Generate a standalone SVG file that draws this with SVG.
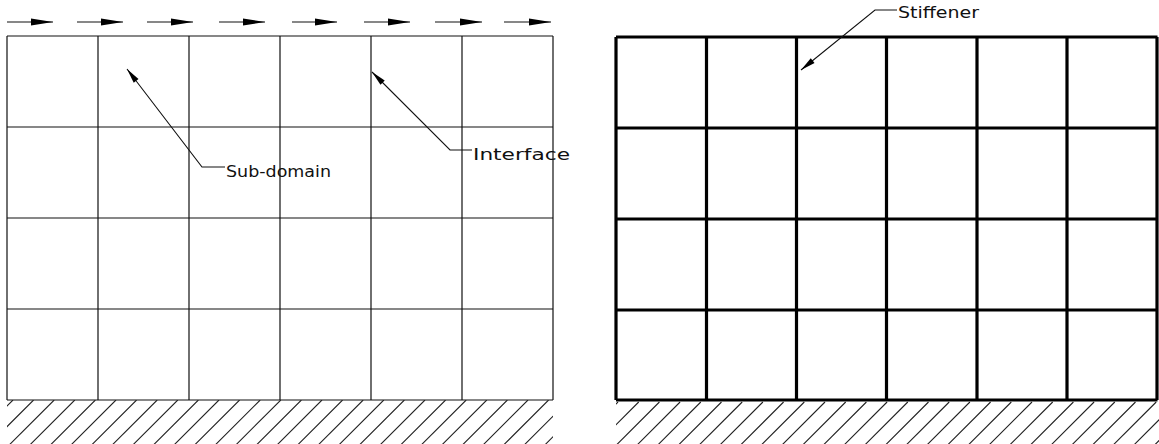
<svg xmlns="http://www.w3.org/2000/svg" width="1159" height="444" viewBox="0 0 1159 444">
<style>
.thin{stroke:#111;stroke-width:1.2;fill:none}
.thick{stroke:#000;stroke-width:3.2;fill:none}
.hatch{stroke:#222;stroke-width:1.1;fill:none}
.lead{stroke:#111;stroke-width:1.1;fill:none}
.lbl{font-family:"DejaVu Sans","Liberation Sans",sans-serif;font-size:16px;fill:#111}
</style>
<defs>
<marker id="flowHead" markerUnits="userSpaceOnUse" markerWidth="24" markerHeight="10" viewBox="-23 -5 24 10" refX="0" refY="0" orient="auto" overflow="visible">
<path d="M-22 -3.6L0 0L-22 3.6z" fill="#000"/>
</marker>
<marker id="leadHead" markerUnits="userSpaceOnUse" markerWidth="18" markerHeight="8" viewBox="-1 -4 18 8" refX="0" refY="0" orient="auto" overflow="visible">
<path d="M0 0L15 -3L15 3z" fill="#000"/>
</marker>
<clipPath id="clipL"><rect x="7" y="400" width="546" height="44"/></clipPath>
<clipPath id="clipR"><rect x="616" y="400" width="543" height="44"/></clipPath>
</defs>

<g id="flow-arrows">
<path class="thin" marker-end="url(#flowHead)" d="M7 22H53"/>
<path class="thin" marker-end="url(#flowHead)" d="M77 22H123"/>
<path class="thin" marker-end="url(#flowHead)" d="M147 22H193"/>
<path class="thin" marker-end="url(#flowHead)" d="M219 22H265"/>
<path class="thin" marker-end="url(#flowHead)" d="M292 22H337"/>
<path class="thin" marker-end="url(#flowHead)" d="M364 22H410"/>
<path class="thin" marker-end="url(#flowHead)" d="M435 22H482"/>
<path class="thin" marker-end="url(#flowHead)" d="M504 22H551"/>
</g>

<g id="left-grid">
<path class="thin" d="M7 36H553M7 127H553M7 218H553M7 309H553M7 400H553M7 36V400M98 36V400M189 36V400M280 36V400M371 36V400M462 36V400M553 36V400"/>
</g>

<g id="left-ground" clip-path="url(#clipL)">
<path class="hatch" d="M13 400l-50 50M33.6 400l-50 50M54.2 400l-50 50M74.8 400l-50 50M95.4 400l-50 50M116 400l-50 50M136.6 400l-50 50M157.2 400l-50 50M177.8 400l-50 50M198.4 400l-50 50M219 400l-50 50M239.6 400l-50 50M260.2 400l-50 50M280.8 400l-50 50M301.4 400l-50 50M322 400l-50 50M342.6 400l-50 50M363.2 400l-50 50M383.8 400l-50 50M404.4 400l-50 50M425 400l-50 50M445.6 400l-50 50M466.2 400l-50 50M486.8 400l-50 50M507.4 400l-50 50M528 400l-50 50M548.6 400l-50 50M569.2 400l-50 50M589.8 400l-50 50"/>
</g>

<g id="right-grid">
<path class="thick" d="M616 37H1157.5M616 128H1157.5M616 219H1157.5M616 310H1157.5M616 400H1157.5M616 37V400M706.5 37V400M796.5 37V400M886.5 37V400M977 37V400M1067 37V400M1157 37V400"/>
</g>

<g id="right-ground" clip-path="url(#clipR)">
<path class="hatch" d="M618 402l-50 50M638.7 402l-50 50M659.4 402l-50 50M680.1 402l-50 50M700.8 402l-50 50M721.5 402l-50 50M742.2 402l-50 50M762.9 402l-50 50M783.6 402l-50 50M804.3 402l-50 50M825 402l-50 50M845.7 402l-50 50M866.4 402l-50 50M887.1 402l-50 50M907.8 402l-50 50M928.5 402l-50 50M949.2 402l-50 50M969.9 402l-50 50M990.6 402l-50 50M1011.3 402l-50 50M1032 402l-50 50M1052.7 402l-50 50M1073.4 402l-50 50M1094.1 402l-50 50M1114.8 402l-50 50M1135.5 402l-50 50M1156.2 402l-50 50M1176.9 402l-50 50M1197.6 402l-50 50"/>
</g>

<g id="connectors">
<path class="lead" marker-start="url(#leadHead)" d="M127 69L202 167H225"/>
<path class="lead" marker-start="url(#leadHead)" d="M372 72L450 150H472"/>
<path class="lead" marker-start="url(#leadHead)" d="M801 70L875 10H897"/>
</g>

<g id="label-subdomain"><text class="lbl" x="226" y="177" textLength="105" lengthAdjust="spacingAndGlyphs">Sub-domain</text></g>
<g id="label-interface"><text class="lbl" x="473" y="160" textLength="97" lengthAdjust="spacingAndGlyphs">Interface</text></g>
<g id="label-stiffener"><text class="lbl" x="898" y="18" textLength="81" lengthAdjust="spacingAndGlyphs">Stiffener</text></g>
</svg>
